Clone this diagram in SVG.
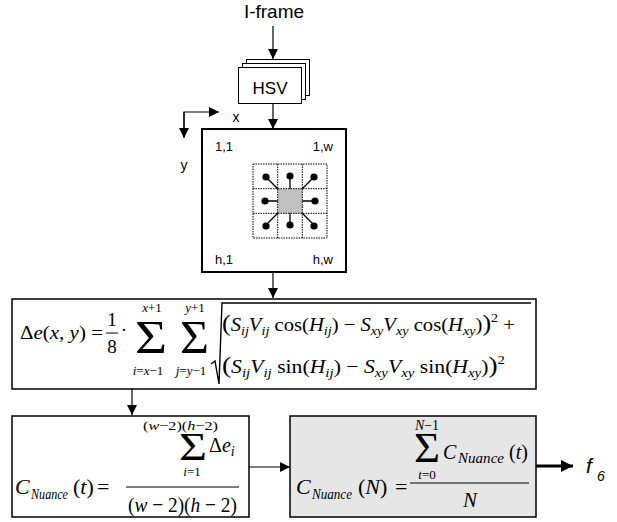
<svg xmlns="http://www.w3.org/2000/svg" width="617" height="522" viewBox="0 0 617 522">
<defs>
<marker id="ah" viewBox="0 0 10 10" refX="10" refY="5" markerWidth="10" markerHeight="10" markerUnits="userSpaceOnUse" orient="auto">
<path d="M0,0 L10,5 L0,10 Z" fill="#000"/>
</marker>
<marker id="ahb" viewBox="0 0 10 10" refX="10" refY="5" markerWidth="12" markerHeight="12" markerUnits="userSpaceOnUse" orient="auto">
<path d="M0,0 L10,5 L0,10 Z" fill="#000"/>
</marker>
</defs>
<style>
.sans{font-family:"Liberation Sans",Arial,sans-serif;fill:#000}
.m{font-family:"Liberation Serif","Times New Roman",serif;fill:#000}
.i{font-style:italic}
.box{fill:#fff;stroke:#000;stroke-width:1.5}
.conn{stroke:#000;stroke-width:1.2;fill:none}
.grid{stroke:#000;stroke-width:1;stroke-dasharray:1.5 1;fill:none}
.nb{stroke:#000;stroke-width:1.3}
</style>
<rect width="617" height="522" fill="#fff"/>

<g id="iframe"><text class="sans" x="274" y="18" font-size="19" text-anchor="middle">I-frame</text></g>

<g id="hsv">
<rect x="246.5" y="59.5" width="63" height="36" fill="#fff" stroke="#000" stroke-width="1"/>
<rect x="242.5" y="63.5" width="63" height="36" fill="#fff" stroke="#000" stroke-width="1"/>
<rect x="238.5" y="67.5" width="63" height="36" fill="#fff" stroke="#000" stroke-width="1"/>
<text class="sans" x="270" y="94" font-size="17" text-anchor="middle">HSV</text>
</g>

<g id="axes">
<path class="conn" d="M184,137 L184,112 L219,112" marker-end="url(#ah)"/>
<path class="conn" d="M184,112 L184,138" marker-end="url(#ah)"/>
<text class="sans" x="236" y="122" font-size="14" text-anchor="middle">x</text>
<text class="sans" x="184" y="170" font-size="14" text-anchor="middle">y</text>
</g>

<g id="image">
<rect x="202" y="129" width="144" height="143" fill="#fff" stroke="#000" stroke-width="2"/>
<text class="sans" x="215" y="151" font-size="13">1,1</text>
<text class="sans" x="333" y="151" font-size="13" text-anchor="end">1,w</text>
<text class="sans" x="215" y="264" font-size="13">h,1</text>
<text class="sans" x="333" y="264" font-size="13" text-anchor="end">h,w</text>
<rect x="277.7" y="188.7" width="24.6" height="24.6" fill="#c0c0c0"/>
<rect class="grid" x="253" y="164" width="74" height="74"/>
<path class="grid" d="M277.7,164 V238 M302.3,164 V238 M253,188.7 H327 M253,213.3 H327"/>
<path class="nb" d="M266,177 L277.7,188.7 M290,177 L290,188.7 M314,177 L302.3,188.7 M266,201 L277.7,201 M314,201 L302.3,201 M266,225 L277.7,213.3 M290,225 L290,213.3 M314,225 L302.3,213.3"/>
<g fill="#000">
<circle cx="266" cy="177" r="3.6"/><circle cx="290" cy="176" r="3.6"/><circle cx="314" cy="177" r="3.6"/>
<circle cx="265" cy="201" r="3.6"/><circle cx="315" cy="201" r="3.6"/>
<circle cx="266" cy="226" r="3.6"/><circle cx="290" cy="225" r="3.6"/><circle cx="314" cy="226" r="3.6"/>
</g>
</g>

<g id="connectors">
<path class="conn" d="M273,26 V59" marker-end="url(#ah)"/>
<path class="conn" d="M273,104 V129" marker-end="url(#ah)"/>
<path class="conn" d="M273,272 V298" marker-end="url(#ah)"/>
<path class="conn" d="M132,389 V415" marker-end="url(#ah)"/>
<path class="conn" d="M249,467 H290" marker-end="url(#ah)"/>
<path d="M536,466 H573" stroke="#000" stroke-width="3" fill="none" marker-end="url(#ahb)"/>
</g>

<g id="delta-e">
<rect class="box" x="12" y="299" width="524" height="90"/>
<text class="m" x="20" y="339" font-size="19" textLength="83" lengthAdjust="spacingAndGlyphs">Δ<tspan class="i">e</tspan>(<tspan class="i">x</tspan>, <tspan class="i">y</tspan>) =</text>
<text class="m" x="112" y="326" font-size="19" text-anchor="middle">1</text>
<text class="m" x="112" y="353" font-size="19" text-anchor="middle">8</text>
<line x1="106" y1="333" x2="118" y2="333" stroke="#000" stroke-width="1"/>
<text class="m" x="124" y="336" font-size="19" text-anchor="middle">·</text>
<text class="m" x="135" y="353" font-size="47" textLength="32" lengthAdjust="spacingAndGlyphs">Σ</text>
<text class="m" x="152" y="312" font-size="13" text-anchor="middle"><tspan class="i">x</tspan>+1</text>
<text class="m" x="148" y="375" font-size="13" text-anchor="middle"><tspan class="i">i</tspan>=<tspan class="i">x</tspan>−1</text>
<text class="m" x="180" y="353" font-size="47" textLength="29" lengthAdjust="spacingAndGlyphs">Σ</text>
<text class="m" x="195" y="312" font-size="13" text-anchor="middle"><tspan class="i">y</tspan>+1</text>
<text class="m" x="191" y="375" font-size="13" text-anchor="middle"><tspan class="i">j</tspan>=<tspan class="i">y</tspan>−1</text>
<path d="M211,364 L215,361 L219,384 L222,303 L531,303" stroke="#000" stroke-width="1.4" fill="none"/>
<text class="m" x="222" y="331" font-size="19" textLength="293" lengthAdjust="spacingAndGlyphs"><tspan font-size="24">(</tspan><tspan class="i">S</tspan><tspan class="i" font-size="13" dy="4">ij</tspan><tspan class="i" dy="-4">V</tspan><tspan class="i" font-size="13" dy="4">ij</tspan><tspan dy="-4"> cos(</tspan><tspan class="i">H</tspan><tspan class="i" font-size="13" dy="4">ij</tspan><tspan dy="-4">) − </tspan><tspan class="i">S</tspan><tspan class="i" font-size="13" dy="4">xy</tspan><tspan class="i" dy="-4">V</tspan><tspan class="i" font-size="13" dy="4">xy</tspan><tspan dy="-4"> cos(</tspan><tspan class="i">H</tspan><tspan class="i" font-size="13" dy="4">xy</tspan><tspan dy="-4">)</tspan><tspan font-size="24">)</tspan><tspan font-size="13" dy="-9">2</tspan><tspan dy="9"> +</tspan></text>
<text class="m" x="222" y="373" font-size="19" textLength="283" lengthAdjust="spacingAndGlyphs"><tspan font-size="24">(</tspan><tspan class="i">S</tspan><tspan class="i" font-size="13" dy="4">ij</tspan><tspan class="i" dy="-4">V</tspan><tspan class="i" font-size="13" dy="4">ij</tspan><tspan dy="-4"> sin(</tspan><tspan class="i">H</tspan><tspan class="i" font-size="13" dy="4">ij</tspan><tspan dy="-4">) − </tspan><tspan class="i">S</tspan><tspan class="i" font-size="13" dy="4">xy</tspan><tspan class="i" dy="-4">V</tspan><tspan class="i" font-size="13" dy="4">xy</tspan><tspan dy="-4"> sin(</tspan><tspan class="i">H</tspan><tspan class="i" font-size="13" dy="4">xy</tspan><tspan dy="-4">)</tspan><tspan font-size="24">)</tspan><tspan font-size="13" dy="-9">2</tspan></text>
</g>

<g id="c-nuance-t">
<rect class="box" x="12" y="416" width="237" height="101"/>
<text class="m" font-size="22" y="494"><tspan class="i" x="15">C</tspan><tspan class="i" font-size="15" dy="5" x="31" textLength="37" lengthAdjust="spacingAndGlyphs">Nuance</tspan><tspan dy="-5" x="73">(</tspan><tspan class="i">t</tspan>)<tspan x="97">=</tspan></text>
<text class="m" x="143" y="430" font-size="13" textLength="75" lengthAdjust="spacingAndGlyphs">(<tspan class="i">w</tspan>−2)(<tspan class="i">h</tspan>−2)</text>
<text class="m" x="179" y="460" font-size="39" textLength="28" lengthAdjust="spacingAndGlyphs">Σ</text>
<text class="m" x="209" y="452" font-size="20">Δ<tspan class="i">e</tspan><tspan class="i" font-size="14" dy="4">i</tspan></text>
<text class="m" x="192" y="476" font-size="13" text-anchor="middle"><tspan class="i">i</tspan>=1</text>
<line x1="126" y1="487" x2="239" y2="487" stroke="#000" stroke-width="1"/>
<text class="m" x="128" y="512" font-size="22" textLength="109" lengthAdjust="spacingAndGlyphs">(<tspan class="i">w</tspan> − 2)(<tspan class="i">h</tspan> − 2)</text>
</g>

<g id="c-nuance-n">
<rect x="290" y="416" width="246" height="101" fill="#e6e6e6" stroke="#000" stroke-width="1.5"/>
<text class="m" font-size="22" y="494"><tspan class="i" x="296">C</tspan><tspan class="i" font-size="15" dy="5" x="312" textLength="40" lengthAdjust="spacingAndGlyphs">Nuance</tspan><tspan dy="-5" x="358">(</tspan><tspan class="i">N</tspan>)<tspan x="395">=</tspan></text>
<text class="m" x="427" y="430" font-size="14" text-anchor="middle"><tspan class="i">N</tspan>−1</text>
<text class="m" x="414" y="462" font-size="42" textLength="26" lengthAdjust="spacingAndGlyphs">Σ</text>
<text class="m" font-size="20" y="459"><tspan class="i" x="443">C</tspan><tspan class="i" font-size="14" dy="4" x="458" textLength="46" lengthAdjust="spacingAndGlyphs">Nuance</tspan><tspan dy="-4" x="509">(</tspan><tspan class="i">t</tspan>)</text>
<text class="m" x="427" y="479" font-size="13" text-anchor="middle"><tspan class="i">t</tspan>=0</text>
<line x1="410" y1="483" x2="529" y2="483" stroke="#000" stroke-width="1"/>
<text class="m i" x="470" y="507" font-size="21" text-anchor="middle">N</text>
</g>

<g id="f6">
<text class="sans i" x="586" y="473" font-size="21">f</text>
<text class="sans i" x="597" y="481" font-size="14">6</text>
</g>
</svg>
